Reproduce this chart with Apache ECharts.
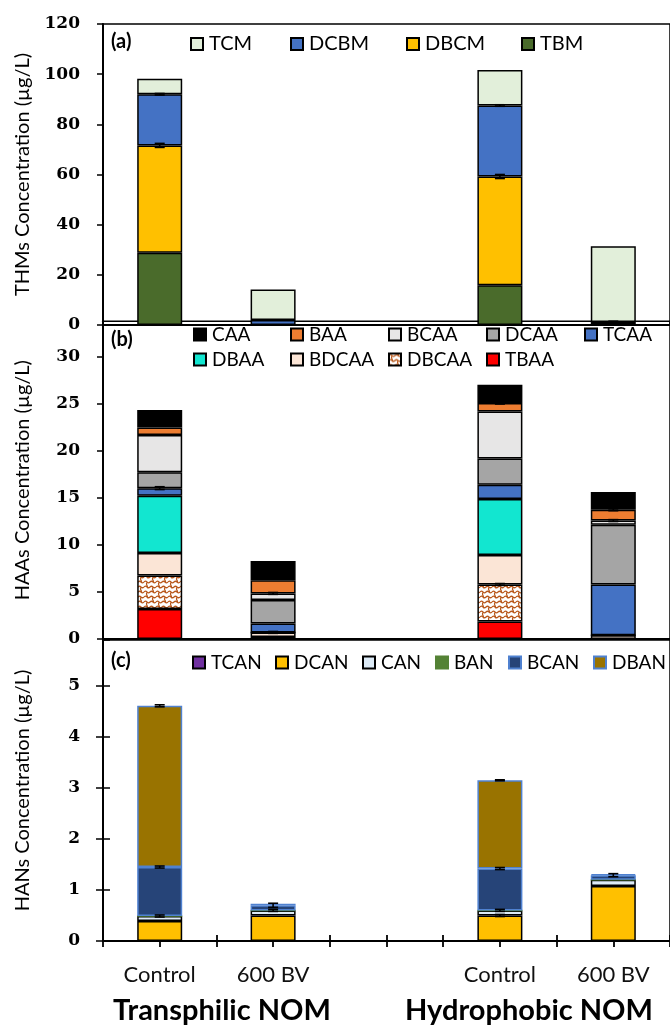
<!DOCTYPE html>
<html><head><meta charset="utf-8">
<script src="https://cdn.jsdelivr.net/npm/echarts@6/dist/echarts.min.js"></script>
<style>html,body{margin:0;padding:0;background:#fff}#c{width:670px;height:1026px}</style>
</head><body><div id="c"></div>
<script>
// ---------- data ----------
const categories = ['Control', '600 BV', '', 'Control', '600 BV'];
const groupLabels = ['Transphilic NOM', 'Hydrophobic NOM'];
const thmTicks = [0, 20, 40, 60, 80, 100, 120];
const haaTicks = [0, 5, 10, 15, 20, 25, 30];
const hanTicks = [0, 1, 2, 3, 4, 5];

// (a) THMs (µg/L), stacked bottom -> top
const TBM  = [28.8, 0,    null, 15.8, 0];
const DBCM = [42.8, 0,    null, 43.4, 0];
const DCBM = [20.4, 2.0,  null, 28.3, 1.2];
const TCM  = [6.2,  12.2, null, 14.2, 30.2];
const errDBCM = [0.8, 0, null, 0.8, 0];
const errDCBM = [0.3, 0, null, 0.3, 0.3];

// (b) HAAs (µg/L), stacked bottom -> top
const TBAA  = [3.2,  0,    null, 1.85, 0];
const DBCAA = [3.55, 0.2,  null, 3.95, 0];
const BDCAA = [2.4,  0.5,  null, 3.15, 0.4];
const DBAA  = [6.1,  0,    null, 5.95, 0];
const TCAA  = [0.8,  0.95, null, 1.5,  5.4];
const DCAA  = [1.7,  2.5,  null, 2.8,  6.35];
const BCAA  = [3.95, 0.7,  null, 5.0,  0.45];
const BAA   = [0.8,  1.4,  null, 0.9,  1.15];
const CAA   = [1.85, 2.05, null, 1.95, 1.9];
const errTCAA  = [0.15, 0,   null, 0,   0];
const errBDCAA = [0,    0.1, null, 0,   0];
const errBCAA  = [0,    0.1, null, 0,   0.1];
const errBAA   = [0,    0,   null, 0.1, 0.1];
const errDBCAA = [0,    0,   null, 0.1, 0];

// (c) HANs (µg/L), stacked bottom -> top
const TCAN = [0,    0,    null, 0,    0];
const DCAN = [0.39, 0.5,  null, 0.5,  1.08];
const CAN  = [0.1,  0.1,  null, 0.1,  0.12];
const BAN  = [0,    0,    null, 0,    0];
const BCAN = [0.96, 0.1,  null, 0.82, 0.09];
const DBAN = [3.16, 0.03, null, 1.73, 0.02];
const errDCAN = [0,    0,    null, 0.02, 0];
const errCAN  = [0.02, 0.02, null, 0.02, 0];
const errBCAN = [0.02, 0.04, null, 0.02, 0.03];
const errDBAN = [0.02, 0,    null, 0.01, 0];

// ---------- styling / build ----------
function wavePattern() {
  const c = document.createElement('canvas');
  c.width = 12; c.height = 10;
  const g = c.getContext('2d');
  g.fillStyle = '#ffffff'; g.fillRect(0, 0, 12, 10);
  g.strokeStyle = '#B8581C'; g.lineWidth = 1.2;
  g.beginPath();
  g.moveTo(0, 2); g.bezierCurveTo(3, -1, 3, 5, 6, 2); g.bezierCurveTo(9, -1, 9, 5, 12, 2);
  g.moveTo(3, 2.5); g.bezierCurveTo(1, 5, 5, 6, 3, 8);
  g.moveTo(0, 7); g.bezierCurveTo(3, 4, 3, 10, 6, 7); g.bezierCurveTo(9, 4, 9, 10, 12, 7);
  g.moveTo(9, 7.5); g.bezierCurveTo(7, 10, 11, 11, 9, 13);
  g.moveTo(9, -3); g.bezierCurveTo(7, 0, 11, 1, 9, 2);
  g.stroke();
  return { image: c, repeat: 'repeat' };
}

const FONT = 'Lato, "Open Sans", sans-serif';
const BLK = '#000';
const BW = 1.5;

function barSeries(name, data, color, gridIdx, stack, border) {
  return {
    type: 'bar', name: name, data: data, stack: stack,
    xAxisIndex: gridIdx, yAxisIndex: gridIdx, barWidth: 45,
    itemStyle: { color: color, borderColor: border || BLK, borderWidth: BW },
    emphasis: { disabled: true }
  };
}

function errSeries(list, xIdx, yIdx) {
  // list: [[seriesArray, errArray], ...] in stacking order
  const data = [];
  for (let i = 0; i < categories.length; i++) {
    let cum = 0;
    for (const [vals, errs] of list) {
      if (vals[i] == null) continue;
      cum += vals[i];
      if (errs && errs[i]) data.push([i, cum, errs[i]]);
    }
  }
  return {
    type: 'custom', xAxisIndex: xIdx, yAxisIndex: yIdx, z: 5, silent: true,
    data: data,
    renderItem: function (params, api) {
      const x = api.value(0), y = api.value(1), e = api.value(2);
      const lo = api.coord([x, y - e]), hi = api.coord([x, y + e]);
      const w = 5;
      const st = { stroke: '#000', lineWidth: 1.6 };
      return { type: 'group', children: [
        { type: 'line', shape: { x1: lo[0], y1: lo[1], x2: hi[0], y2: hi[1] }, style: st },
        { type: 'line', shape: { x1: lo[0] - w, y1: lo[1], x2: lo[0] + w, y2: lo[1] }, style: st },
        { type: 'line', shape: { x1: hi[0] - w, y1: hi[1], x2: hi[0] + w, y2: hi[1] }, style: st }
      ]};
    }
  };
}

function legend(name, left, cy, size) {
  return {
    data: [name], left: left, top: cy - 8, padding: 0, itemGap: 0,
    itemWidth: 12, itemHeight: 12, icon: 'rect', selectedMode: false,
    textStyle: { fontFamily: FONT, fontSize: size, color: '#000', padding: [0, 0, 0, 1] }
  };
}

const pattern = wavePattern();

const grids = [
  { left: 103, top: 24, width: 567.5, height: 301 },
  { left: 103, top: 321.3, width: 567.5, height: 317.7 },
  { left: 103, top: 640, width: 567.5, height: 301 }
].map(g => Object.assign(g, { show: true, borderColor: BLK, borderWidth: 1.5, containLabel: false }));

function yAxis(gridIdx, max, interval, ticks, name) {
  return {
    type: 'value', gridIndex: gridIdx, min: 0, max: max, interval: interval, position: 'left',
    axisLine: { show: true, lineStyle: { color: BLK, width: 2 } },
    axisTick: { show: true, length: 6, lineStyle: { color: BLK, width: 1.5 } },
    splitLine: { show: false },
    axisLabel: {
      show: true, margin: 23, showMaxLabel: ticks[ticks.length - 1] === max,
      fontFamily: '"DejaVu Serif", serif', fontWeight: 'bold', fontSize: 17, color: BLK,
      formatter: v => (ticks.indexOf(v) >= 0 ? String(v) : '')
    },
    name: name, nameLocation: 'middle', nameGap: 70,
    nameTextStyle: { fontFamily: FONT, fontSize: 20, color: BLK }
  };
}

function xCat(gridIdx, showLabel) {
  return {
    type: 'category', gridIndex: gridIdx, data: categories, position: 'bottom',
    axisLine: { show: true, lineStyle: { color: BLK, width: 2 } },
    axisTick: { show: false },
    axisLabel: { show: showLabel, interval: 0, margin: 23, fontFamily: FONT, fontSize: 22, color: '#111' }
  };
}

function xTickAxis(inside) {
  return {
    type: 'value', gridIndex: 2, min: 0, max: categories.length, interval: 0.5, position: 'bottom',
    axisLine: { show: !inside, lineStyle: { color: BLK, width: 2 } },
    axisTick: { show: true, inside: inside, length: 6, lineStyle: { color: BLK, width: 1.8 } },
    axisLabel: { show: false }, splitLine: { show: false }
  };
}

const yAxes = [
  yAxis(0, 120, 20, thmTicks, 'THMs Concentration (µg/L)'),
  yAxis(1, 33.8, 5, haaTicks, 'HAAs Concentration (µg/L)'),
  yAxis(2, 5.9, 1, hanTicks, 'HANs Concentration (µg/L)')
];
yAxes[2].axisTick.length = 7;
const yInner = {
  type: 'value', gridIndex: 2, min: 0, max: 5.9, interval: 1, position: 'left',
  axisLine: { show: false }, axisLabel: { show: false }, splitLine: { show: false },
  axisTick: { show: true, inside: true, length: 7, lineStyle: { color: BLK, width: 1.5 } }
};
yAxes.push(yInner);

const xAxes = [xCat(0, false), xCat(1, false), xCat(2, true), xTickAxis(false), xTickAxis(true)];

const blueEdge = '#4F81D0';
const series = [
  barSeries('TBM', TBM, '#4A6B2B', 0, 'a'),
  barSeries('DBCM', DBCM, '#FFC000', 0, 'a'),
  barSeries('DCBM', DCBM, '#4472C4', 0, 'a'),
  barSeries('TCM', TCM, '#E2EFDA', 0, 'a'),
  errSeries([[TBM, null], [DBCM, errDBCM], [DCBM, errDCBM], [TCM, null]], 0, 0),

  barSeries('TBAA', TBAA, '#FF0000', 1, 'b'),
  barSeries('DBCAA', DBCAA, pattern, 1, 'b'),
  barSeries('BDCAA', BDCAA, '#FBE5D6', 1, 'b'),
  barSeries('DBAA', DBAA, '#12E6D0', 1, 'b'),
  barSeries('TCAA', TCAA, '#4472C4', 1, 'b'),
  barSeries('DCAA', DCAA, '#A5A5A5', 1, 'b'),
  barSeries('BCAA', BCAA, '#E7E6E6', 1, 'b'),
  barSeries('BAA', BAA, '#ED7D31', 1, 'b'),
  barSeries('CAA', CAA, '#000000', 1, 'b'),
  errSeries([[TBAA, null], [DBCAA, errDBCAA], [BDCAA, errBDCAA], [DBAA, null], [TCAA, errTCAA],
             [DCAA, null], [BCAA, errBCAA], [BAA, errBAA], [CAA, null]], 1, 1),

  barSeries('TCAN', TCAN, '#7030A0', 2, 'c'),
  barSeries('DCAN', DCAN, '#FFC000', 2, 'c'),
  barSeries('CAN', CAN, '#DDEBF7', 2, 'c'),
  barSeries('BAN', BAN, '#548235', 2, 'c', '#548235'),
  barSeries('BCAN', BCAN, '#264478', 2, 'c', blueEdge),
  barSeries('DBAN', DBAN, '#997300', 2, 'c', blueEdge),
  errSeries([[TCAN, null], [DCAN, errDCAN], [CAN, errCAN], [BAN, null], [BCAN, errBCAN], [DBAN, errDBAN]], 2, 2)
];

const legends = [
  legend('TCM', 190, 42, 20), legend('DCBM', 290, 42, 20), legend('DBCM', 406, 42, 20), legend('TBM', 521, 42, 20),
  legend('CAA', 193, 333, 19), legend('BAA', 290, 333, 19), legend('BCAA', 388, 333, 19),
  legend('DCAA', 486, 333, 19), legend('TCAA', 584, 333, 19),
  legend('DBAA', 193, 358, 19), legend('BDCAA', 290, 358, 19), legend('DBCAA', 388, 358, 19), legend('TBAA', 486, 358, 19),
  legend('TCAN', 192, 661, 19), legend('DCAN', 275, 661, 19), legend('CAN', 362, 661, 19),
  legend('BAN', 435, 661, 19), legend('BCAN', 508, 661, 19), legend('DBAN', 593, 661, 19)
];

function label(text, x, y, font, align) {
  return { type: 'text', z: 10, style: { text: text, x: x, y: y, font: font, fill: '#000', align: align || 'left', verticalAlign: 'middle' } };
}

const chart = echarts.init(document.getElementById('c'), null, { renderer: 'canvas' });
chart.setOption({
  animation: false,
  backgroundColor: '#fff',
  grid: grids,
  xAxis: xAxes,
  yAxis: yAxes,
  legend: legends,
  series: series,
  graphic: [
    label('(a)', 111, 42, 'bold 20px ' + FONT),
    label('(b)', 111, 340, 'bold 20px ' + FONT),
    label('(c)', 111, 661, 'bold 20px ' + FONT),
    label(groupLabels[0], 222, 1011, 'bold 29px ' + FONT, 'center'),
    label(groupLabels[1], 529, 1011, 'bold 29px ' + FONT, 'center')
  ]
});
</script></body></html>
